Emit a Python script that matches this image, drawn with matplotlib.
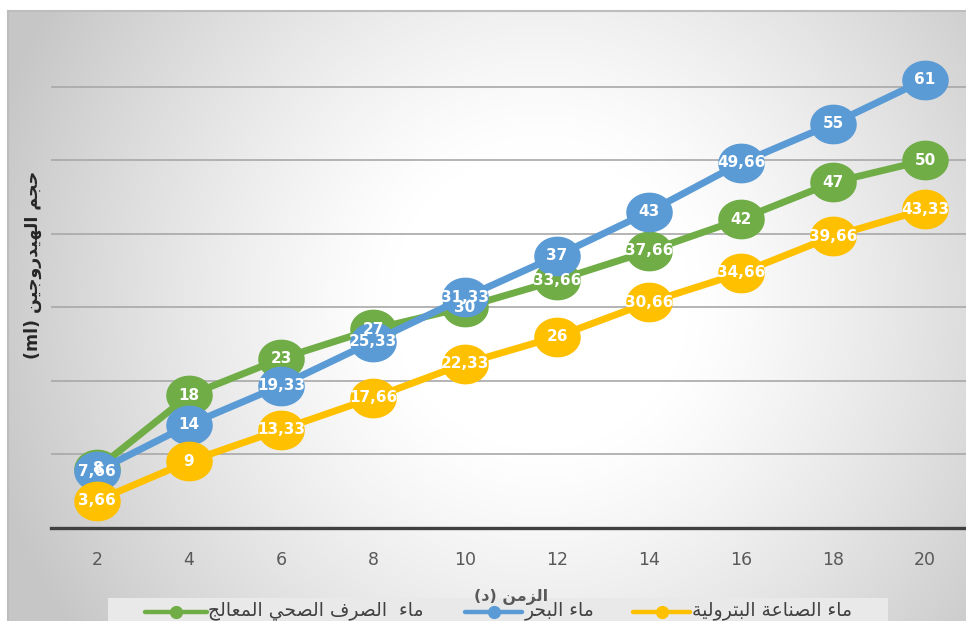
import numpy as np
import matplotlib
matplotlib.use("Agg")
import matplotlib.pyplot as plt
from matplotlib.lines import Line2D
from matplotlib.patches import Rectangle
from matplotlib.path import Path

# ---------------------------------------------------------------- data
times = [2, 4, 6, 8, 10, 12, 14, 16, 18, 20]
treated_sewage = [8, 18, 23, 27, 30, 33.66, 37.66, 42, 47, 50]
sea_water = [7.66, 14, 19.33, 25.33, 31.33, 37, 43, 49.66, 55, 61]
petroleum_water = [3.66, 9, 13.33, 17.66, 22.33, 26, 30.66, 34.66, 39.66, 43.33]

series_names = ["ماء  الصرف الصحي المعالج", "ماء البحر", "ماء الصناعة البترولية"]
x_title = "الزمن (د)"
y_title = "حجم الهيدروجين (ml)"

# ------------------------------------------------- Arabic text shaping
# contextual forms: isolated, final, initial, medial
ARABIC_FORMS = {
    'ء': ('\uFE80', None, None, None),
    'ا': ('\uFE8D', '\uFE8E', None, None),
    'ب': ('\uFE8F', '\uFE90', '\uFE91', '\uFE92'),
    'ة': ('\uFE93', '\uFE94', None, None),
    'ت': ('\uFE95', '\uFE96', '\uFE97', '\uFE98'),
    'ج': ('\uFE9D', '\uFE9E', '\uFE9F', '\uFEA0'),
    'ح': ('\uFEA1', '\uFEA2', '\uFEA3', '\uFEA4'),
    'د': ('\uFEA9', '\uFEAA', None, None),
    'ر': ('\uFEAD', '\uFEAE', None, None),
    'ز': ('\uFEAF', '\uFEB0', None, None),
    'ص': ('\uFEB9', '\uFEBA', '\uFEBB', '\uFEBC'),
    'ع': ('\uFEC9', '\uFECA', '\uFECB', '\uFECC'),
    'ف': ('\uFED1', '\uFED2', '\uFED3', '\uFED4'),
    'ل': ('\uFEDD', '\uFEDE', '\uFEDF', '\uFEE0'),
    'م': ('\uFEE1', '\uFEE2', '\uFEE3', '\uFEE4'),
    'ن': ('\uFEE5', '\uFEE6', '\uFEE7', '\uFEE8'),
    'ه': ('\uFEE9', '\uFEEA', '\uFEEB', '\uFEEC'),
    'و': ('\uFEED', '\uFEEE', None, None),
    'ى': ('\uFEEF', '\uFEF0', None, None),
    'ي': ('\uFEF1', '\uFEF2', '\uFEF3', '\uFEF4'),
}
LAM_ALEF = ('\uFEFB', '\uFEFC')


def shape_rtl(text):
    """Join Arabic letters and return the string in visual (left-to-right) order."""
    chars, i = [], 0
    while i < len(text):
        if text[i] == 'ل' and i + 1 < len(text) and text[i + 1] == 'ا':
            chars.append('LA')
            i += 2
        else:
            chars.append(text[i])
            i += 1

    def joins_next(c):
        if c == 'LA':
            return False
        f = ARABIC_FORMS.get(c)
        return f is not None and f[2] is not None

    def joins_prev(c):
        if c == 'LA':
            return True
        f = ARABIC_FORMS.get(c)
        return f is not None and f[1] is not None

    out = []
    for k, c in enumerate(chars):
        pj = k > 0 and joins_next(chars[k - 1]) and joins_prev(c)
        nj = k + 1 < len(chars) and joins_next(c) and joins_prev(chars[k + 1])
        if c == 'LA':
            out.append(LAM_ALEF[1] if pj else LAM_ALEF[0])
        elif c in ARABIC_FORMS:
            iso, fin, ini, med = ARABIC_FORMS[c]
            out.append(med if (pj and nj) else fin if pj else ini if nj else iso)
        else:
            out.append(c)

    vis = [{'(': ')', ')': '('}.get(c, c) for c in out[::-1]]
    result, run = [], []
    for c in vis:
        if c.isascii() and c.isalnum():
            run.append(c)
        else:
            if run:
                result.extend(run[::-1])
                run = []
            result.append(c)
    if run:
        result.extend(run[::-1])
    return ''.join(result)


# ---------------------------------------------------------------- style
GREEN, BLUE, YELLOW = "#70AD47", "#5B9BD5", "#FFC000"
W, H = 966, 621


def fx(px):
    return px / W


def fy(px):
    return 1 - px / H


fig = plt.figure(figsize=(W / 100, H / 100), dpi=100)
fig.patch.set_facecolor("white")

# chart-area background with a soft radial gradient
left_px, top_px = 8, 11
bg = fig.add_axes([fx(left_px), 0, 1 - fx(left_px), 1 - top_px / H])
yy, xx = np.mgrid[top_px:H, left_px:W]
r = np.hypot(xx - 540, yy - 300)
t = np.clip((r - 150) / 420, 0, 1) ** 1.2
shade = 1 - 0.22 * t
bg.imshow(np.dstack([shade] * 3), aspect="auto", extent=[0, 1, 0, 1], interpolation="bilinear")
bg.plot([0, 0], [0, 1], color="#bdbdbd", lw=1.5, transform=bg.transAxes, clip_on=False)
bg.plot([0, 1], [1, 1], color="#bdbdbd", lw=1.5, transform=bg.transAxes, clip_on=False)
bg.set_xlim(0, 1)
bg.set_ylim(0, 1)
bg.axis("off")

# plot area
ax_left, ax_right = 51, 971
ax_top, ax_bottom = 13.5, 527.5
ax = fig.add_axes([fx(ax_left), fy(ax_bottom), (ax_right - ax_left) / W, (ax_bottom - ax_top) / H])
ax.set_facecolor("none")

pos = np.arange(len(times))
ax.set_xlim(-0.5, len(times) - 0.5)
ax.set_ylim(0, 70)
ax.set_yticks(np.arange(10, 70, 10))
ax.yaxis.grid(True, color="#a8a8a8", lw=1.2)
ax.set_axisbelow(True)
ax.tick_params(axis="y", left=False, labelleft=False)
ax.set_xticks(pos)
ax.set_xticklabels([str(v) for v in times], fontsize=12.5, color="#595959")
ax.tick_params(axis="x", length=0, pad=17)
for s in ("left", "right", "top"):
    ax.spines[s].set_visible(False)
ax.spines["bottom"].set_color("#404040")
ax.spines["bottom"].set_linewidth(2.4)
ax.spines["bottom"].set_zorder(5)

# slightly flattened circle used for the data markers
theta = np.linspace(0, 2 * np.pi, 64)
oval = Path(np.column_stack([np.cos(theta), 0.85 * np.sin(theta)]), closed=True)


def fmt(v):
    return (f"{v:.2f}".rstrip("0").rstrip(".")).replace(".", ",")


series = [(treated_sewage, GREEN), (sea_water, BLUE), (petroleum_water, YELLOW)]
for k, (vals, col) in enumerate(series):
    ax.plot(pos, vals, color=col, lw=5, marker=oval, markersize=32.5,
            markerfacecolor=col, markeredgecolor=col, zorder=3 + k, clip_on=False,
            solid_capstyle="round")
for vals, col in series:
    for xp, v in zip(pos, vals):
        ax.text(xp, v, fmt(v), ha="center", va="center", color="white",
                fontsize=11, fontweight="bold", zorder=10, clip_on=False)

# legend strip along the bottom edge
fig.add_artist(Rectangle((fx(108), 0), fx(888) - fx(108), fy(598), transform=fig.transFigure,
                         facecolor="#e9e9e9", edgecolor="none", zorder=4))
legend_y = 612
handle_spans = [(145, 207), (465, 522), (633, 690)]
text_starts = [208, 525, 692]
for (vals, col), name, (x0, x1), tx in zip(series, series_names, handle_spans, text_starts):
    fig.add_artist(Line2D([fx(x0), fx(x1)], [fy(legend_y)] * 2, transform=fig.transFigure,
                          color=col, lw=3.2, zorder=5, solid_capstyle="round"))
    fig.add_artist(Line2D([fx((x0 + x1) / 2)], [fy(legend_y)], transform=fig.transFigure,
                          color=col, marker="o", markersize=8.5, zorder=6))
    fig.text(fx(tx), fy(legend_y - 1), shape_rtl(name), ha="left", va="center",
             fontsize=13.5, color="#404040", family="DejaVu Sans", zorder=6)

# axis titles
fig.text(fx(33), fy(265), shape_rtl(y_title), rotation=90, ha="center", va="center",
         fontsize=12.5, fontweight="bold", color="#262626", family="DejaVu Sans")
fig.text(fx(511), fy(597), shape_rtl(x_title), ha="center", va="center",
         fontsize=11.5, fontweight="bold", color="#595959", family="DejaVu Sans", zorder=7)

fig.savefig("out.png", dpi=100)
